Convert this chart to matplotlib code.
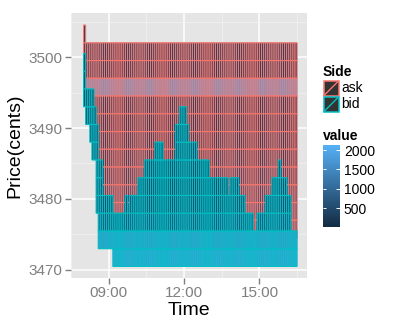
import numpy as np
import matplotlib
matplotlib.use("Agg")
import matplotlib as mpl
import matplotlib.pyplot as plt
from matplotlib.colors import LinearSegmentedColormap, Normalize
from matplotlib.patches import Rectangle
from matplotlib.lines import Line2D

plt.rcParams['font.family'] = ['Liberation Sans', 'DejaVu Sans']

# --- datos ---
# cubetas de tiempo de 5 minutos
bucket_min = 5
first_bucket = "08:00"
last_bucket = "16:25"

# filas de precio (centro de cada fila, alto 2.5 centavos)
row_height = 2.5
ask_prices = [3503.25, 3500.75, 3498.25, 3495.75, 3493.25, 3490.75,
              3488.25, 3485.75, 3483.25, 3480.75, 3478.25, 3475.75]
ask_values = [350, 450, 400, 1900, 450, 400, 450, 500, 600, 700, 800, 900]
bid_prices = [3471.75, 3474.25, 3476.75, 3479.25, 3481.75, 3484.25,
              3486.75, 3489.25, 3491.75, 3494.25, 3496.75, 3499.25]
bid_values = [1800, 1650, 650, 500, 450, 450, 450, 450, 400, 400, 350, 300]

# primera fila ask (indice en ask_prices) segun la hora
ask_top_from = ["08:00", "08:05"]
ask_top_row = [0, 1]

# fila bid mas baja segun la hora
bid_low_from = ["08:00", "08:05", "08:15", "08:20", "08:30", "08:35", "09:10"]
bid_low_row = [9, 8, 7, 6, 3, 1, 0]

# fila bid mas alta (mejor bid) segun la hora
bid_high_from = ["08:00", "08:05", "08:25", "08:30", "08:35", "08:45", "09:10",
                 "09:40", "09:45", "09:50", "10:10", "10:25", "10:50", "11:10",
                 "11:40", "11:50", "12:05", "12:10", "12:30", "13:00", "13:45",
                 "13:50", "14:10", "14:25", "14:45", "14:55", "15:15", "15:30",
                 "15:45", "15:50", "16:05", "16:15"]
bid_high_row = [11, 9, 8, 7, 5, 3, 2,
                3, 2, 3, 4, 5, 6, 5,
                7, 8, 7, 6, 5, 4, 3,
                4, 3, 2, 1, 2, 3, 4,
                5, 4, 3, 1]


def horas(s):
    h, m = s.split(":")
    return int(h) + int(m) / 60


def paso(t, desde, filas):
    # valor vigente de una serie escalonada en la hora t
    idx = np.searchsorted([horas(s) for s in desde], t + 1e-9) - 1
    return filas[idx]


width = bucket_min / 60
times = np.arange(horas(first_bucket), horas(last_bucket) + 1e-6, width)

ask_x, ask_y, ask_v = [], [], []
bid_x, bid_y, bid_v = [], [], []
for t in times:
    lo = paso(t, bid_low_from, bid_low_row)
    hi = paso(t, bid_high_from, bid_high_row)
    for r in range(lo, hi + 1):
        bid_x.append(t)
        bid_y.append(bid_prices[r])
        bid_v.append(bid_values[r])
    best_bid = bid_prices[hi] + row_height / 2
    top = paso(t, ask_top_from, ask_top_row)
    for j in range(top, len(ask_prices)):
        if ask_prices[j] + row_height / 2 > best_bid:
            ask_x.append(t)
            ask_y.append(ask_prices[j])
            ask_v.append(ask_values[j])

cmap = LinearSegmentedColormap.from_list("gg", ["#132B43", "#56B1F7"])
norm = Normalize(25, 2130)

W, H = 407, 326
fig = plt.figure(figsize=(W / 100, H / 100), dpi=100)
ax = fig.add_axes([71 / W, 1 - 278 / H, (307 - 71) / W, (278 - 13) / H])
ax.set_facecolor('#E5E5E5')
for s in ax.spines.values():
    s.set_visible(False)

# se dibujan las celdas: primero ask, luego bid encima
ax.bar(ask_x, row_height, width=width, bottom=np.array(ask_y) - row_height / 2,
       align='edge', color=cmap(norm(ask_v)), edgecolor='#F8766D', linewidth=0.8,
       snap=False)
ax.bar(bid_x, row_height, width=width, bottom=np.array(bid_y) - row_height / 2,
       align='edge', color=cmap(norm(bid_v)), edgecolor='#00BFC4', linewidth=0.8,
       snap=False)

ax.set_xlim(7.565, 16.893)
ax.set_ylim(3468.87, 3506.2)
ax.set_xticks([9, 12, 15])
ax.set_xticklabels(["09:00", "12:00", "15:00"])
ax.set_xticks([7.5, 10.5, 13.5, 16.5], minor=True)
ax.set_yticks([3470, 3480, 3490, 3500])
ax.set_yticks([3475, 3485, 3495, 3505], minor=True)
ax.set_axisbelow(True)
ax.grid(which='major', color='white', linewidth=1.1)
ax.grid(which='minor', color='#F2F2F2', linewidth=0.5)
ax.tick_params(which='major', color='#7F7F7F', length=4, width=1,
               labelcolor='#7F7F7F', labelsize=11, pad=2)
ax.tick_params(which='minor', length=0)
ax.set_xlabel("Time", fontsize=14, labelpad=1)
ax.set_ylabel("Price(cents)", fontsize=14, labelpad=4)

# leyenda Side
fig.text(323 / W, 1 - 72 / H, "Side", fontsize=10, fontweight='bold', va='center')
for k, (lab, col) in enumerate([("ask", '#F8766D'), ("bid", '#00BFC4')]):
    y0 = 81 + 16 * k
    fig.add_artist(Rectangle((323.5 / W, 1 - (y0 + 15) / H), 15 / W, 15 / H,
                             transform=fig.transFigure, facecolor='#333333',
                             edgecolor=col, linewidth=1.1))
    fig.add_artist(Line2D([324 / W, 338 / W], [1 - (y0 + 14.5) / H, 1 - (y0 + 0.5) / H],
                          transform=fig.transFigure, color=col, linewidth=1.0))
    fig.text(341 / W, 1 - (y0 + 7.5) / H, lab, fontsize=10, va='center')

# leyenda value
fig.text(323 / W, 1 - 136 / H, "value", fontsize=10, fontweight='bold', va='center')
cax = fig.add_axes([323 / W, 1 - 226.7 / H, 16.6 / W, 81.7 / H])
cb = mpl.colorbar.ColorbarBase(cax, cmap=cmap, norm=norm, ticks=[500, 1000, 1500, 2000])
cb.outline.set_visible(False)
cax.tick_params(length=0, labelsize=10, pad=3)
cax.hlines([500, 1000, 1500, 2000], 0, 0.2, color='white', linewidth=0.7)
cax.hlines([500, 1000, 1500, 2000], 0.8, 1, color='white', linewidth=0.7)

fig.savefig("out.png", dpi=100)
